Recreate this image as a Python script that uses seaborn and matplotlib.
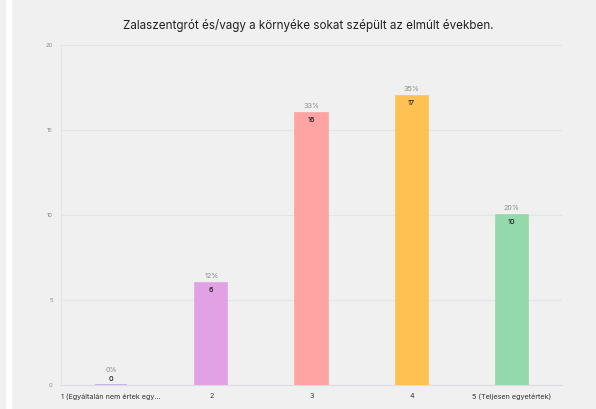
import matplotlib
matplotlib.use("Agg")
import matplotlib.pyplot as plt
import seaborn as sns
import pandas as pd

categories = ["1 (Egyáltalán nem értek egy...", "2", "3", "4", "5 (Teljesen egyetértek)"]
counts = [0, 6, 16, 17, 10]
percents = [0, 12, 33, 35, 20]
colors = ["#c9a8f2", "#e2a1e4", "#ffa3a3", "#ffc152", "#93d9ab"]
y_ticks = [0, 5, 10, 15, 20]
title = "Zalaszentgrót és/vagy a környéke sokat szépült az elmúlt években."

sns.set_theme(style="white")
plt.rcParams["font.family"] = ["Inter", "DejaVu Sans"]

bg = "#f0f0f0"
fig = plt.figure(figsize=(5.96, 4.09), dpi=100, facecolor=bg)
# thin white strip along the left edge
fig.patches.append(plt.Rectangle((6 / 596, 0), 6 / 596, 1, transform=fig.transFigure,
                                 facecolor="white", edgecolor="none", zorder=0))
ax = fig.add_axes([61 / 596, 24 / 409, 501 / 596, 340 / 409])
ax.set_facecolor(bg)

df = pd.DataFrame({"cat": categories, "count": counts})
sns.barplot(data=df, x="cat", y="count", hue="cat", palette=colors, legend=False,
            width=0.32, ax=ax, saturation=1, zorder=3)
for patch, c in zip(ax.patches, colors):
    patch.set_edgecolor(c)
    patch.set_linewidth(1.2)

for i, (c, p) in enumerate(zip(counts, percents)):
    if c > 0:
        ax.text(i, c + 0.25, f"{p}%", ha="center", va="bottom", fontsize=5.2, color="#8a8a8a", zorder=4)
        ax.text(i, c - 0.25, str(c), ha="center", va="top", fontsize=5.2, color="#222222",
                fontweight="medium", zorder=4)
    else:
        ax.text(i, c + 0.2, str(c), ha="center", va="bottom", fontsize=5.2, color="#222222",
                fontweight="medium", zorder=4)
        ax.text(i, c + 0.7, f"{p}%", ha="center", va="bottom", fontsize=5.2, color="#8a8a8a", zorder=4)

ax.set_ylim(0, 20)
ax.set_xlim(-0.5, 4.5)
ax.set_yticks(y_ticks)
ax.set_yticklabels([str(t) for t in y_ticks], fontsize=4.2, color="#8a8a8a")
ax.tick_params(axis="y", length=0, pad=6)
ax.tick_params(axis="x", length=2, color="#dcdce4", labelsize=5.2, labelcolor="#333333", pad=4)
ax.grid(axis="y", color="#e3e3ea", linewidth=0.8, zorder=0)
for s in ["top", "right"]:
    ax.spines[s].set_visible(False)
ax.spines["left"].set_color("#e3e3ea")
ax.spines["bottom"].set_color("#dcdce4")
ax.spines["left"].set_linewidth(0.8)
ax.spines["bottom"].set_linewidth(0.8)
ax.set_xlabel("")
ax.set_ylabel("")

fig.text(308 / 596, 1 - 25 / 409, title, ha="center", va="center", fontsize=8.4, color="#222222")

fig.savefig("out.png", dpi=100, facecolor=bg)
